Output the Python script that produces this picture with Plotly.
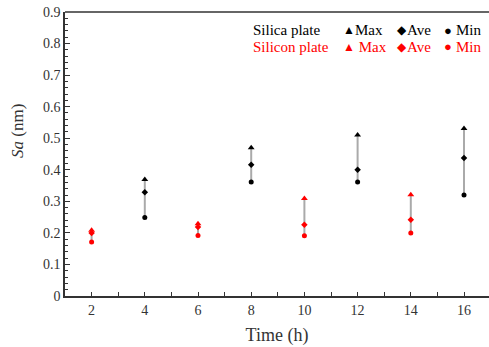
import plotly.graph_objects as go

silica_t = [4, 8, 12, 16]
silica_max = [0.369, 0.470, 0.510, 0.531]
silica_ave = [0.329, 0.416, 0.400, 0.437]
silica_min = [0.249, 0.361, 0.361, 0.320]

silicon_t = [2, 6, 10, 14]
silicon_max = [0.208, 0.229, 0.309, 0.321]
silicon_ave = [0.200, 0.219, 0.226, 0.242]
silicon_min = [0.171, 0.192, 0.191, 0.200]

x_ticks = list(range(2, 17, 2))
y_ticks = [0, 0.1, 0.2, 0.3, 0.4, 0.5, 0.6, 0.7, 0.8, 0.9]

FONT = "Liberation Serif"
AX = "#333333"
fig = go.Figure()

def add_series(t, mx, av, mn, color):
    xs, ys = [], []
    for ti, a, b in zip(t, mn, mx):
        xs += [ti, ti, None]
        ys += [a, b, None]
    fig.add_trace(go.Scatter(x=xs, y=ys, mode="lines",
                             line=dict(color="#aaaaaa", width=2),
                             showlegend=False, hoverinfo="skip"))
    fig.add_trace(go.Scatter(x=t, y=mx, mode="markers",
                             marker=dict(symbol="triangle-up", size=6, color=color),
                             showlegend=False))
    fig.add_trace(go.Scatter(x=t, y=av, mode="markers",
                             marker=dict(symbol="diamond", size=5, color=color),
                             showlegend=False))
    fig.add_trace(go.Scatter(x=t, y=mn, mode="markers",
                             marker=dict(symbol="circle", size=5, color=color),
                             showlegend=False))

add_series(silica_t, silica_max, silica_ave, silica_min, "black")
add_series(silicon_t, silicon_max, silicon_ave, silicon_min, "#ff0000")

L, T, B = 65, 12, 296
W = 489 - L

def ann(text, xpx, ypx, color, size=15, xanchor="left", angle=0):
    fig.add_annotation(x=(xpx - L) / W, y=(B - ypx) / (B - T),
                       xref="x domain", yref="y domain", text=text,
                       showarrow=False, xanchor=xanchor, yanchor="middle",
                       borderpad=0, textangle=angle,
                       font=dict(family=FONT, size=size, color=color))

legend_rows = [("Silica plate", "black", 30, ""), ("Silicon plate", "#ff0000", 47, " ")]
for label, color, ypx, sp in legend_rows:
    ann(label, 252, ypx, color)
    ann("▲", 342, ypx, color, 12)
    ann(sp + "Max", 354, ypx, color)
    ann("◆", 396, ypx, color, 12)
    ann("Ave", 406, ypx, color)
    ann("●", 443, ypx, color, 13)
    ann("Min", 455, ypx, color)

# y-axis title (placed above the axis centre, as in the reference)
ann("<i>Sa</i> (nm)", 17, 131, AX, 17, xanchor="center", angle=-90)

fig.update_layout(
    width=489, height=347,
    margin=dict(l=L, r=0, t=T, b=347 - B),
    plot_bgcolor="white", paper_bgcolor="white",
    font=dict(family=FONT, size=13, color=AX),
)
fig.update_xaxes(
    range=[1, 1 + W / 26.6], tickvals=x_ticks, ticks="inside", ticklen=4,
    tickcolor=AX, showgrid=False, zeroline=False,
    showline=True, linecolor=AX, linewidth=1.5, mirror=False,
    minor=dict(dtick=1, tick0=1, ticks="inside", ticklen=4, tickcolor=AX),
    title=dict(text="Time (h)", font=dict(family=FONT, size=18, color=AX), standoff=12),
    tickfont=dict(family=FONT, size=14, color=AX),
)
fig.update_yaxes(
    range=[0, 0.9], tickvals=y_ticks, ticktext=["0"] + [f"{v:.1f}" for v in y_ticks[1:]],
    ticks="inside", ticklen=5, tickcolor=AX,
    showgrid=False, zeroline=False,
    showline=True, linecolor=AX, linewidth=1.5,
    minor=dict(dtick=0.02, tick0=0, ticks="inside", ticklen=3, tickcolor=AX),
    tickfont=dict(family=FONT, size=14, color=AX),
)
fig.add_shape(type="line", xref="paper", yref="paper", x0=0, x1=1, y0=1, y1=1,
              line=dict(color=AX, width=1.5))
fig.write_html("out.html", config={"displayModeBar": False},
               post_script="document.body.style.margin='0';")
